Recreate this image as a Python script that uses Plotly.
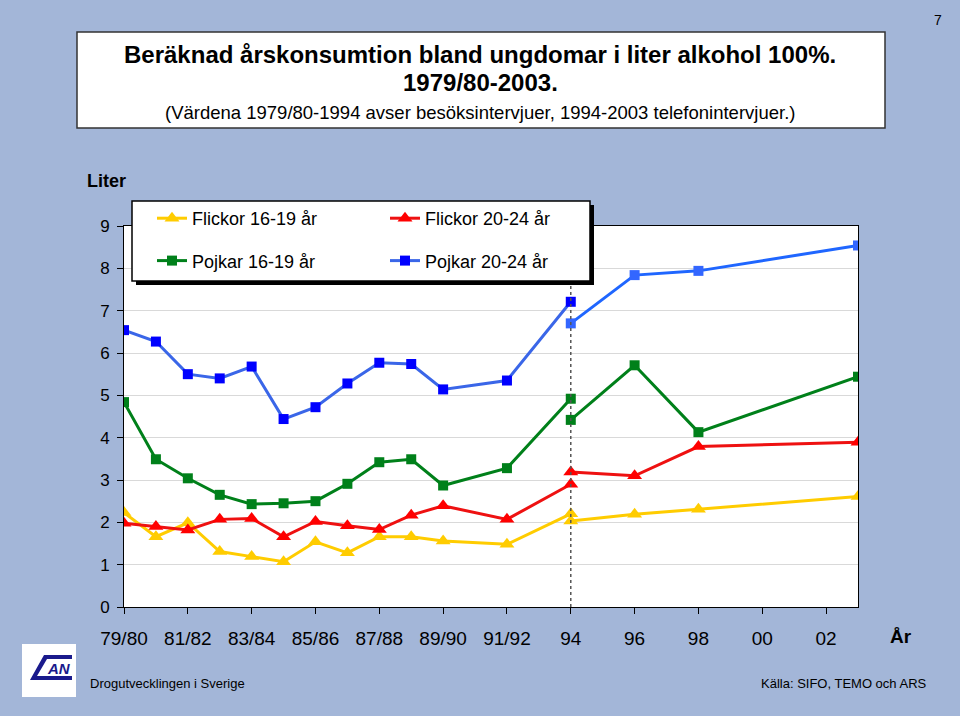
import plotly.graph_objects as go

W, H = 960, 716

# x positions: 79/80 -> 0, one unit per year, 2003 -> 23
x_besok = [0, 1, 2, 3, 4, 5, 6, 7, 8, 9, 10, 12, 14]
x_tele = [14, 16, 18, 23]
tick_vals = [0, 2, 4, 6, 8, 10, 12, 14, 16, 18, 20, 22]
tick_text = ["79/80", "81/82", "83/84", "85/86", "87/88", "89/90", "91/92", "94", "96", "98", "00", "02"]

# visit interviews (besöksintervjuer) 1979/80-1994
flickor_16_19_besok = [2.23, 1.66, 1.99, 1.31, 1.19, 1.07, 1.54, 1.28, 1.66, 1.66, 1.56, 1.48, 2.20]
flickor_20_24_besok = [1.98, 1.90, 1.82, 2.07, 2.09, 1.66, 2.02, 1.92, 1.83, 2.17, 2.39, 2.07, 2.90]
pojkar_16_19_besok = [4.84, 3.49, 3.04, 2.65, 2.43, 2.45, 2.50, 2.91, 3.42, 3.49, 2.87, 3.28, 4.92]
pojkar_20_24_besok = [6.54, 6.27, 5.50, 5.40, 5.68, 4.44, 4.72, 5.28, 5.77, 5.74, 5.14, 5.35, 7.21]

# telephone interviews (telefonintervjuer) 1994-2003
flickor_16_19_tele = [2.03, 2.19, 2.31, 2.61]
flickor_20_24_tele = [3.19, 3.10, 3.79, 3.89]
pojkar_16_19_tele = [4.42, 5.71, 4.13, 5.44]
pojkar_20_24_tele = [6.70, 7.84, 7.94, 8.54]

FONT = "Arial, Liberation Sans, sans-serif"


def px(x):
    return x / W


def py(y):
    return 1 - y / H


series = [
    # name, besok, tele, line colour, marker colour besok, marker colour tele, symbol, size, legend
    ("Flickor 16-19 år", flickor_16_19_besok, flickor_16_19_tele, "#FFCC00", "#FFCC00", "#FFCC00", "triangle-up", 13, "legend"),
    ("Pojkar 16-19 år", pojkar_16_19_besok, pojkar_16_19_tele, "#00801A", "#00801A", "#00801A", "square", 10, "legend"),
    ("Flickor 20-24 år", flickor_20_24_besok, flickor_20_24_tele, "#EE1111", "#FF0000", "#FF0000", "triangle-up", 13, "legend2"),
    ("Pojkar 20-24 år", pojkar_20_24_besok, pojkar_20_24_tele, "#3A66E8", "#0000FF", "#3366FF", "square", 10, "legend2"),
]

fig = go.Figure()
for name, besok, tele, lc, mc1, mc2, sym, size, leg in series:
    fig.add_trace(go.Scatter(x=x_besok, y=besok, name=name, mode="lines+markers", legend=leg,
                             legendgroup=name, line=dict(color=lc, width=3),
                             marker=dict(color=mc1, symbol=sym, size=size)))
    fig.add_trace(go.Scatter(x=x_tele, y=tele, name=name, mode="lines+markers", legend=leg,
                             legendgroup=name, showlegend=False,
                             line=dict(color="#1F66FF" if lc == "#3A66E8" else lc, width=3),
                             marker=dict(color=mc2, symbol=sym, size=size)))

shapes = [
    # split between interview methods
    dict(type="line", xref="x", yref="y", x0=14, x1=14, y0=0, y1=9,
         line=dict(color="#555555", width=1.5, dash="3px,3px"), layer="above"),
    # title box
    dict(type="rect", xref="paper", yref="paper", x0=px(77), x1=px(885), y0=py(128), y1=py(32),
         fillcolor="white", line=dict(color="#333333", width=1.5)),
    # legend box with shadow
    dict(type="rect", xref="paper", yref="paper", x0=px(136), x1=px(594), y0=py(285), y1=py(205),
         fillcolor="black", line=dict(width=0), layer="above"),
    dict(type="rect", xref="paper", yref="paper", x0=px(132), x1=px(590), y0=py(281), y1=py(201),
         fillcolor="white", line=dict(color="black", width=1.5), layer="above"),
    # logo
    dict(type="rect", xref="paper", yref="paper", x0=px(22), x1=px(76), y0=py(697), y1=py(644),
         fillcolor="white", line=dict(width=0)),
    dict(type="path", xref="paper", yref="paper",
         path="M {} {} L {} {} L {} {} L {} {} L {} {} L {} {} L {} {} L {} {} Z".format(
             px(44), py(655), px(72), py(655), px(72), py(659), px(47), py(659),
             px(37), py(676), px(72), py(676), px(72), py(680), px(30), py(680)),
         fillcolor="#1A1A8C", line=dict(width=0)),
]

annotations = [
    dict(text="<b>Beräknad årskonsumtion bland ungdomar i liter alkohol 100%.</b>", x=px(480), y=py(54),
         font=dict(size=24)),
    dict(text="<b>1979/80-2003.</b>", x=px(480), y=py(82), font=dict(size=24)),
    dict(text="(Värdena 1979/80-1994 avser besöksintervjuer, 1994-2003 telefonintervjuer.)",
         x=px(480), y=py(112), font=dict(size=18.5)),
    dict(text="<b>Liter</b>", x=px(106), y=py(181), font=dict(size=18)),
    dict(text="<b>År</b>", x=px(901), y=py(636), font=dict(size=19)),
    dict(text="7", x=px(938), y=py(20), font=dict(size=14)),
    dict(text="Drogutvecklingen i Sverige", x=px(88), y=py(683), xanchor="left", font=dict(size=13)),
    dict(text="Källa: SIFO, TEMO och ARS", x=px(929), y=py(683), xanchor="right", font=dict(size=13)),
    dict(text="<b><i>AN</i></b>", x=px(59), y=py(668), font=dict(size=15, color="#1A1A8C")),
]
for a in annotations:
    a.update(xref="paper", yref="paper", showarrow=False)
    a.setdefault("xanchor", "center")
    a["yanchor"] = "middle"

fig.update_layout(
    width=W, height=H,
    margin=dict(l=0, r=0, t=0, b=0, autoexpand=False),
    paper_bgcolor="#A3B6D8",
    plot_bgcolor="white",
    font=dict(family=FONT, color="black"),
    shapes=shapes,
    annotations=annotations,
    legend=dict(x=px(152), y=py(200), xanchor="left", yanchor="top", bgcolor="rgba(0,0,0,0)",
                font=dict(size=18), tracegroupgap=16),
    legend2=dict(x=px(385), y=py(200), xanchor="left", yanchor="top", bgcolor="rgba(0,0,0,0)",
                 font=dict(size=18), tracegroupgap=16),
    xaxis=dict(domain=[px(124), px(858)], range=[0, 23], tickvals=tick_vals, ticktext=tick_text,
               ticks="outside", ticklen=6, tickcolor="black", showgrid=False, zeroline=False,
               showline=True, linecolor="black", linewidth=1, mirror=True,
               tickfont=dict(size=19), ticklabelstandoff=8),
    yaxis=dict(domain=[py(607), py(226)], range=[0, 9], dtick=1, ticks="outside", ticklen=6,
               tickcolor="black", showgrid=True, gridcolor="#D9D9D9", gridwidth=1, zeroline=False,
               showline=True, linecolor="black", linewidth=1, mirror=True,
               tickfont=dict(size=17), ticklabelstandoff=4),
)

# the page body has a default 8px margin; drop it so the figure fills the window
fig.write_html("out.html", config={"displayModeBar": False},
               post_script="document.body.style.margin = '0';")
